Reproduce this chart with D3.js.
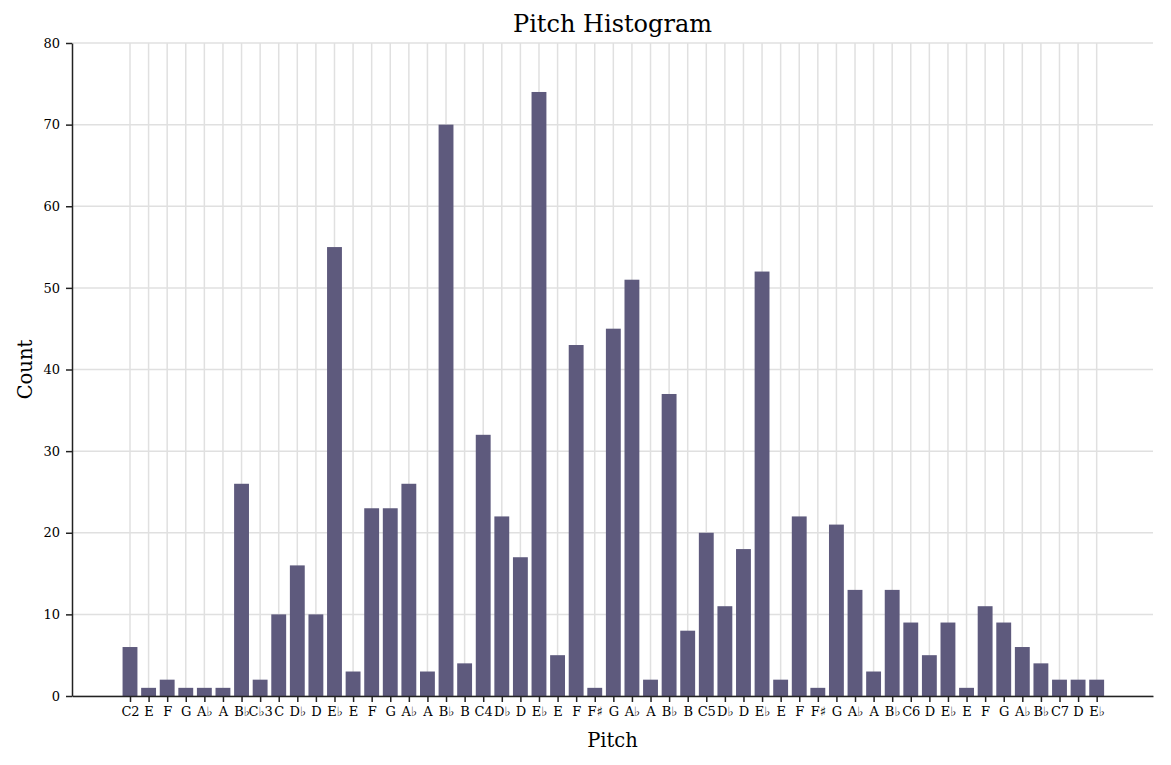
<!DOCTYPE html>
<html>
<head>
<meta charset="utf-8">
<script src="https://cdn.jsdelivr.net/npm/d3@7"></script>
<style>
  body { margin: 0; background: #fff; }
  svg { font-family: 'DejaVu Serif', serif; }
</style>
</head>
<body>
<svg id="chart"></svg>
<script>
// pitch names along the x axis, in order
const pitches = ['C2', 'E', 'F', 'G', 'A♭', 'A', 'B♭', 'C♭3', 'C', 'D♭', 'D', 'E♭', 'E', 'F', 'G', 'A♭', 'A', 'B♭', 'B', 'C4',
    'D♭', 'D', 'E♭', 'E', 'F', 'F♯', 'G', 'A♭', 'A', 'B♭', 'B', 'C5', 'D♭', 'D', 'E♭', 'E', 'F', 'F♯', 'G', 'A♭',
    'A', 'B♭', 'C6', 'D', 'E♭', 'E', 'F', 'G', 'A♭', 'B♭', 'C7', 'D', 'E♭'];

const counts = [6, 1, 2, 1, 1, 1, 26, 2, 10, 16, 10, 55, 3, 23, 23, 26, 3, 70, 4, 32,
    22, 17, 74, 5, 43, 1, 45, 51, 2, 37, 8, 20, 11, 18, 52, 2, 22, 1, 21, 13,
    3, 13, 9, 5, 9, 1, 11, 9, 6, 4, 2, 2, 2];

const yTicks = [0, 10, 20, 30, 40, 50, 60, 70, 80];

const width = 1171, height = 765;
const margin = { top: 43, right: 18, bottom: 69, left: 72 };

const svg = d3.select('#chart')
    .attr('width', width)
    .attr('height', height);

const x = d3.scaleLinear()
    .domain([-3.12, 55.03])
    .range([margin.left, width - margin.right]);

const y = d3.scaleLinear()
    .domain([0, 80])
    .range([height - margin.bottom, margin.top]);

const barW = x(0.8) - x(0);
const idx = d3.range(pitches.length);

// grid
svg.append('g')
    .selectAll('line')
    .data(idx)
    .enter()
    .append('line')
    .attr('x1', d => x(d)).attr('x2', d => x(d))
    .attr('y1', y(0)).attr('y2', y(80))
    .attr('stroke', '#e0e0e0')
    .attr('stroke-width', 1.5);

svg.append('g')
    .selectAll('line')
    .data(yTicks)
    .enter()
    .append('line')
    .attr('x1', margin.left).attr('x2', width - margin.right)
    .attr('y1', d => y(d)).attr('y2', d => y(d))
    .attr('stroke', '#e0e0e0')
    .attr('stroke-width', 1.5);

// bars
svg.append('g')
    .selectAll('rect')
    .data(counts)
    .enter()
    .append('rect')
    .attr('x', (d, i) => x(i) - barW / 2)
    .attr('y', d => y(d))
    .attr('width', barW)
    .attr('height', d => y(0) - y(d))
    .attr('fill', '#5e5a7d');

// axes
const xAxis = d3.axisBottom(x)
    .tickValues(idx)
    .tickFormat(i => pitches[i])
    .tickSize(6)
    .tickPadding(5)
    .tickSizeOuter(0);

const yAxis = d3.axisLeft(y)
    .tickValues(yTicks)
    .tickSize(6)
    .tickPadding(6)
    .tickSizeOuter(0);

const gx = svg.append('g')
    .attr('transform', `translate(0,${y(0)})`)
    .call(xAxis);

const gy = svg.append('g')
    .attr('transform', `translate(${margin.left},0)`)
    .call(yAxis);

[gx, gy].forEach(g => {
    g.select('.domain').attr('stroke', '#222').attr('stroke-width', 1.5);
    g.selectAll('.tick line').attr('stroke', '#222').attr('stroke-width', 1.5);
    g.selectAll('.tick text')
        .attr('fill', '#000')
        .style('font-family', "'DejaVu Serif', serif")
        .style('font-size', '13px');
});

// titles
svg.append('text')
    .attr('x', (margin.left + width - margin.right) / 2)
    .attr('y', 32)
    .attr('text-anchor', 'middle')
    .style('font-size', '24px')
    .text('Pitch Histogram');

svg.append('text')
    .attr('x', (margin.left + width - margin.right) / 2)
    .attr('y', 747)
    .attr('text-anchor', 'middle')
    .style('font-size', '19.5px')
    .text('Pitch');

svg.append('text')
    .attr('transform', `translate(32,${(y(0) + y(80)) / 2}) rotate(-90)`)
    .attr('text-anchor', 'middle')
    .style('font-size', '19.5px')
    .text('Count');
</script>
</body>
</html>
